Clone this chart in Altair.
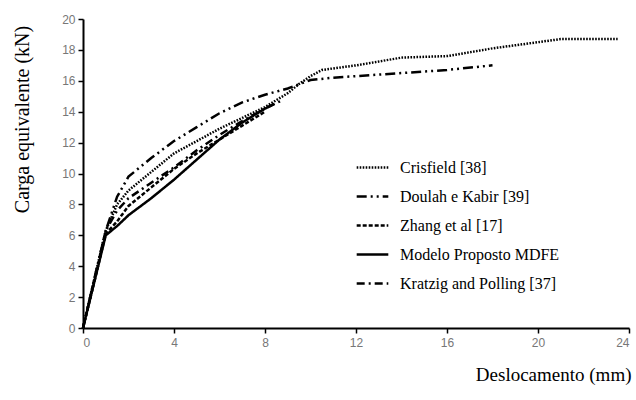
import altair as alt
import pandas as pd

series_names = ["Crisfield  [38]", "Doulah e Kabir [39]", "Zhang et al [17]",
                "Modelo Proposto MDFE", "Kratzig and Polling [37]"]

crisfield_x = [0, 0.5, 1.0, 1.5, 2, 3, 4, 5, 6, 7, 8, 9, 9.5, 10, 10.5, 12, 14, 16, 18, 20, 21, 23.5]
crisfield_y = [0, 3.2, 6.3, 8.0, 8.9, 10.1, 11.3, 12.1, 12.9, 13.6, 14.3, 15.2, 15.8, 16.3, 16.7, 17.0, 17.5, 17.6, 18.1, 18.5, 18.7, 18.7]

doulah_x = [0, 0.5, 1.0, 1.5, 2, 3, 4, 5, 6, 7, 8, 9, 10, 11, 14, 16, 18]
doulah_y = [0, 3.2, 6.3, 8.5, 9.8, 11.0, 12.1, 13.0, 13.9, 14.6, 15.1, 15.5, 16.05, 16.2, 16.5, 16.7, 17.0]

zhang_x = [0, 0.5, 1.0, 1.5, 2, 3, 4, 5, 6, 7, 8]
zhang_y = [0, 3.0, 6.1, 6.9, 7.9, 9.1, 10.3, 11.3, 12.2, 13.1, 14.0]

modelo_x = [0, 0.5, 1.0, 1.5, 2, 3, 4, 5, 6, 7, 8, 8.4]
modelo_y = [0, 3.0, 6.0, 6.6, 7.3, 8.4, 9.6, 10.9, 12.2, 13.3, 14.2, 14.5]

kratzig_x = [0, 0.5, 1.0, 1.5, 2, 3, 4, 5, 6, 7, 8, 8.7]
kratzig_y = [0, 3.1, 6.3, 7.6, 8.4, 9.4, 10.4, 11.5, 12.5, 13.4, 14.2, 14.7]

x_ticks = [0, 4, 8, 12, 16, 20, 24]
y_ticks = [0, 2, 4, 6, 8, 10, 12, 14, 16, 18, 20]

all_x = [crisfield_x, doulah_x, zhang_x, modelo_x, kratzig_x]
all_y = [crisfield_y, doulah_y, zhang_y, modelo_y, kratzig_y]

rows = []
for name, xs, ys in zip(series_names, all_x, all_y):
    for i, (xv, yv) in enumerate(zip(xs, ys)):
        rows.append({"serie": name, "x": xv, "y": yv, "i": i})
df = pd.DataFrame(rows)

dashes = [[1.6, 1.4], [10, 4, 2, 4, 2, 4], [4, 2], [1, 0], [8, 4, 2, 4]]

serif = "Liberation Serif"
sans = "Liberation Sans"

chart = alt.Chart(df).mark_line(strokeWidth=2.5, color="black", strokeCap="butt").encode(
    x=alt.X("x:Q", scale=alt.Scale(domain=[0, 24], nice=False),
            axis=alt.Axis(values=x_ticks, title="Deslocamento (mm)", grid=False,
                          titleX=548, titleY=46, titleAlign="right", titleBaseline="middle",
                          titleFontSize=19, labelPadding=4)),
    y=alt.Y("y:Q", scale=alt.Scale(domain=[0, 20], nice=False),
            axis=alt.Axis(values=y_ticks, title="Carga equivalente (kN)", grid=False,
                          titleX=-61, titleY=100, titleAngle=-90, titleAlign="center",
                          titleBaseline="middle", titleFontSize=20, labelPadding=3)),
    strokeDash=alt.StrokeDash("serie:N",
                              scale=alt.Scale(domain=series_names, range=dashes),
                              sort=series_names,
                              legend=alt.Legend(title=None, orient="none", legendX=272, legendY=131,
                                                symbolType="stroke", symbolSize=1000,
                                                symbolStrokeWidth=2.5, symbolStrokeColor="black",
                                                labelFont=serif, labelFontSize=16,
                                                labelColor="black", labelOffset=10,
                                                rowPadding=3, labelLimit=300)),
    detail="serie:N",
    order="i:Q",
).properties(
    width=546, height=309,
    autosize=alt.AutoSizeParams(type="none"),
    padding={"left": 83, "top": 19, "right": 7, "bottom": 72},
    background="white",
).configure_view(stroke=None).configure_axis(
    domainColor="black", domainWidth=2, tickColor="black", tickWidth=1.5, tickSize=5,
    labelFont=sans, labelFontSize=12, labelColor="#777777",
    titleFont=serif, titleFontSize=17, titleFontWeight="normal", titleColor="black",
)

chart.save("out.html", embed_options={"renderer": "svg", "actions": False})
